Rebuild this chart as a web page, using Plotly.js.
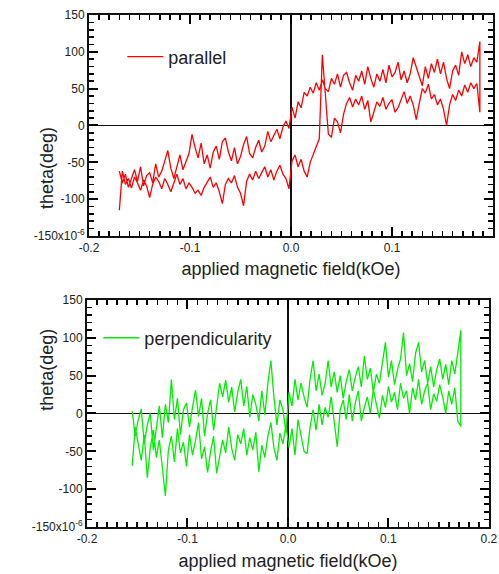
<!DOCTYPE html>
<html>
<head>
<meta charset="utf-8">
<script src="https://cdn.plot.ly/plotly-3.0.1.min.js"></script>
<style>html,body{margin:0;padding:0;background:#fff;}#chart{width:499px;height:574px;}</style>
</head>
<body>
<div id="chart"></div>
<script>
// ---- parallel (top panel): applied field grid in kOe ----
const fieldParallel = [-0.170,-0.167,-0.164,-0.161,-0.158,-0.155,-0.152,-0.149,-0.146,-0.143,-0.140,-0.137,-0.134,-0.131,-0.128,-0.125,-0.122,-0.119,-0.116,-0.113,-0.110,-0.107,-0.104,-0.101,-0.098,-0.095,-0.092,-0.089,-0.086,-0.083,-0.080,-0.077,-0.074,-0.071,-0.068,-0.065,-0.062,-0.059,-0.056,-0.053,-0.050,-0.047,-0.044,-0.041,-0.038,-0.035,-0.032,-0.029,-0.026,-0.023,-0.020,-0.017,-0.014,-0.011,-0.008,-0.005,-0.002,0.001,0.004,0.007,0.010,0.013,0.016,0.019,0.022,0.025,0.028,0.031,0.034,0.037,0.040,0.043,0.046,0.049,0.052,0.055,0.058,0.061,0.064,0.067,0.070,0.073,0.076,0.079,0.082,0.085,0.088,0.091,0.094,0.097,0.100,0.103,0.106,0.109,0.112,0.115,0.118,0.121,0.124,0.127,0.130,0.133,0.136,0.139,0.142,0.145,0.148,0.151,0.154,0.157,0.160,0.163,0.166,0.169,0.172,0.175,0.178,0.181,0.184,0.187];
// increasing-field branch (theta, x10^-6 deg)
const parallelUp = [-115,-62,-80,-72,-85,-70,-78,-88,-74,-82,
  -98,-80,-70,-76,-86,-72,-80,-90,-78,-66,
  -80,-72,-86,-78,-84,-92,-88,-95,-84,-76,
  -70,-84,-78,-90,-106,-80,-72,-78,-68,-84,
  -92,-109,-76,-66,-74,-62,-72,-64,-56,-70,
  -60,-74,-62,-54,-66,-72,-86,
  -48,-40,-56,-46,-62,-70,-50,-40,-28,-18,
  96,40,-12,-16,10,5,-10,15,30,38,
  25,36,28,40,22,34,5,18,32,26,
  38,22,30,35,18,24,36,46,30,40,
  28,8,30,50,44,56,36,42,28,36,
  22,0,28,42,34,48,40,55,45,58,
  50,57,18];
// decreasing-field branch, listed in the same increasing-field order
const parallelDown = [-62,-78,-66,-84,-72,-60,-76,-56,-82,-68,
  -64,-78,-52,-70,-62,-48,-34,-58,-72,-56,
  -40,-60,-48,-38,-12,-30,-44,-24,-52,-40,
  -58,-36,-28,-46,-22,-17,-36,-48,-30,-52,
  -42,-26,-15,-38,-44,-30,-20,-36,-28,-8,
  -22,-14,-5,-18,-2,6,-4,
  25,10,32,24,45,40,52,44,58,48,
  62,50,46,64,56,70,52,68,72,58,
  48,68,60,74,56,80,64,52,70,60,
  76,58,82,66,72,86,62,74,58,70,
  92,78,66,54,80,64,84,72,90,70,
  86,64,50,74,82,68,100,84,96,80,
  92,86,114];

// ---- perpendicularity (bottom panel) ----
const fieldPerp = [-0.155,-0.152,-0.149,-0.146,-0.143,-0.140,-0.137,-0.134,-0.131,-0.128,-0.125,-0.122,-0.119,-0.116,-0.113,-0.110,-0.107,-0.104,-0.101,-0.098,-0.095,-0.092,-0.089,-0.086,-0.083,-0.080,-0.077,-0.074,-0.071,-0.068,-0.065,-0.062,-0.059,-0.056,-0.053,-0.050,-0.047,-0.044,-0.041,-0.038,-0.035,-0.032,-0.029,-0.026,-0.023,-0.020,-0.017,-0.014,-0.011,-0.008,-0.005,-0.002,0.001,0.004,0.007,0.010,0.013,0.016,0.019,0.022,0.025,0.028,0.031,0.034,0.037,0.040,0.043,0.046,0.049,0.052,0.055,0.058,0.061,0.064,0.067,0.070,0.073,0.076,0.079,0.082,0.085,0.088,0.091,0.094,0.097,0.100,0.103,0.106,0.109,0.112,0.115,0.118,0.121,0.124,0.127,0.130,0.133,0.136,0.139,0.142,0.145,0.148,0.151,0.154,0.157,0.160,0.163,0.166,0.169,0.172];
const perpUp = [-69,-18,-40,-62,-28,-85,-45,-22,-58,-35,
  -72,-109,-48,-30,-64,-20,-52,-38,-70,-28,
  -55,-36,-12,-60,-44,-78,-50,-30,-79,-58,
  -35,-52,-18,-46,-62,-28,-40,-20,-55,-32,
  -48,-25,-77,-42,-58,-30,-12,-45,-62,-26,
  -40,-15,
  -45,-20,-55,-8,-30,-50,-53,-18,5,-22,
  12,-15,8,-5,22,-12,-44,5,18,-8,
  25,-10,14,30,-10,8,22,0,32,12,
  -6,24,8,36,15,28,5,40,20,30,
  0,34,18,45,12,30,40,5,26,16,
  38,22,0,30,12,34,-10,-17];
const perpDown = [3,-30,-8,6,-40,-15,0,-48,-20,10,
  -32,12,-12,45,-8,20,-28,5,14,-18,
  8,31,-4,20,-30,0,18,-22,10,40,
  22,44,15,35,2,28,45,10,36,-5,
  25,12,-10,30,-2,40,70,22,-15,18,
  5,-25,
  28,10,45,18,40,22,8,45,70,30,
  52,24,40,70,35,55,28,50,20,42,
  58,30,48,62,35,76,45,60,28,52,
  40,65,94,48,70,38,58,72,107,50,
  66,42,80,94,55,70,40,62,35,58,
  72,45,65,38,70,52,80,110];

// tick label text as printed on the reference
const xTickLabels = {'\u22120.2': '-0.2', '\u22120.1': '-0.1', '-0.2': '-0.2', '-0.1': '-0.1'};
const yTickLabels = {'\u2212150': '-150x10<sup>-6</sup>', '-150': '-150x10<sup>-6</sup>',
                     '\u2212100': '-100', '\u221250': '-50'};

const loop = (xs, up, down) => ({
  x: xs.concat(xs.slice().reverse()),
  y: up.concat(down.slice().reverse())
});
const p = loop(fieldParallel, parallelUp, parallelDown);
const q = loop(fieldPerp, perpUp, perpDown);

const FONT = 'Liberation Sans, Arial, sans-serif';
const TXT = '#222';

const traces = [
  {x: p.x, y: p.y, type: 'scatter', mode: 'lines', name: 'parallel',
   line: {color: '#ff0000', width: 1.3}, xaxis: 'x', yaxis: 'y', legend: 'legend'},
  {x: q.x, y: q.y, type: 'scatter', mode: 'lines', name: 'perpendicularity',
   line: {color: '#00ee00', width: 1.3}, xaxis: 'x2', yaxis: 'y2', legend: 'legend2'}
];

function xAx(domain, anchor, standoff) {
  return {
    domain: domain, anchor: anchor, range: [-0.2, 0.2],
    tickmode: 'linear', tick0: 0, dtick: 0.1, tickformat: '.1f', labelalias: xTickLabels,
    ticks: 'inside', ticklen: 9, tickwidth: 2, tickcolor: '#000',
    minor: {dtick: 0.01, ticks: 'inside', ticklen: 5, tickwidth: 1.6, tickcolor: '#000'},
    showline: true, linewidth: 2, linecolor: '#111', mirror: 'allticks',
    zeroline: true, zerolinecolor: '#111', zerolinewidth: 1.3, showgrid: false,
    tickfont: {family: FONT, size: 12, color: TXT},
    title: {text: 'applied magnetic field(kOe)', font: {family: FONT, size: 18, color: TXT}, standoff: standoff}
  };
}
function yAx(domain, anchor) {
  return {
    domain: domain, anchor: anchor, range: [-150, 150],
    tickmode: 'linear', tick0: 0, dtick: 50, labelalias: yTickLabels,
    ticks: 'inside', ticklen: 9, tickwidth: 2, tickcolor: '#000',
    minor: {dtick: 10, ticks: 'inside', ticklen: 5, tickwidth: 1.6, tickcolor: '#000'},
    showline: true, linewidth: 2, linecolor: '#111', mirror: 'allticks',
    zeroline: true, zerolinecolor: '#111', zerolinewidth: 1.3, showgrid: false,
    tickfont: {family: FONT, size: 12, color: TXT}
  };
}

const layout = {
  width: 499, height: 574,
  margin: {l: 87, r: 6, t: 15, b: 47},
  paper_bgcolor: '#fff', plot_bgcolor: '#fff',
  font: {family: FONT, color: TXT},
  xaxis: xAx([0.005, 1], 'y', 8),
  yaxis: yAx([0.5684, 1], 'x'),
  xaxis2: xAx([0, 0.990], 'y2', 9),
  yaxis2: yAx([0, 0.4434], 'x2'),
  showlegend: true,
  legend: {x: 0.087, y: 0.918, xanchor: 'left', yanchor: 'middle', bgcolor: 'rgba(0,0,0,0)',
           itemwidth: 36, font: {family: FONT, size: 18, color: TXT}},
  legend2: {x: 0.028, y: 0.369, xanchor: 'left', yanchor: 'middle', bgcolor: 'rgba(0,0,0,0)',
            itemwidth: 36, font: {family: FONT, size: 18, color: TXT}},
  annotations: [
    {text: 'theta(deg)', xref: 'paper', yref: 'paper', x: -0.128, y: 0.785, textangle: -90,
     showarrow: false, font: {family: FONT, size: 18, color: TXT}},
    {text: 'theta(deg)', xref: 'paper', yref: 'paper', x: -0.128, y: 0.223, textangle: -90,
     showarrow: false, font: {family: FONT, size: 18, color: TXT}}
  ]
};

Plotly.newPlot('chart', traces, layout, {displayModeBar: false, staticPlot: true});
</script>
</body>
</html>
